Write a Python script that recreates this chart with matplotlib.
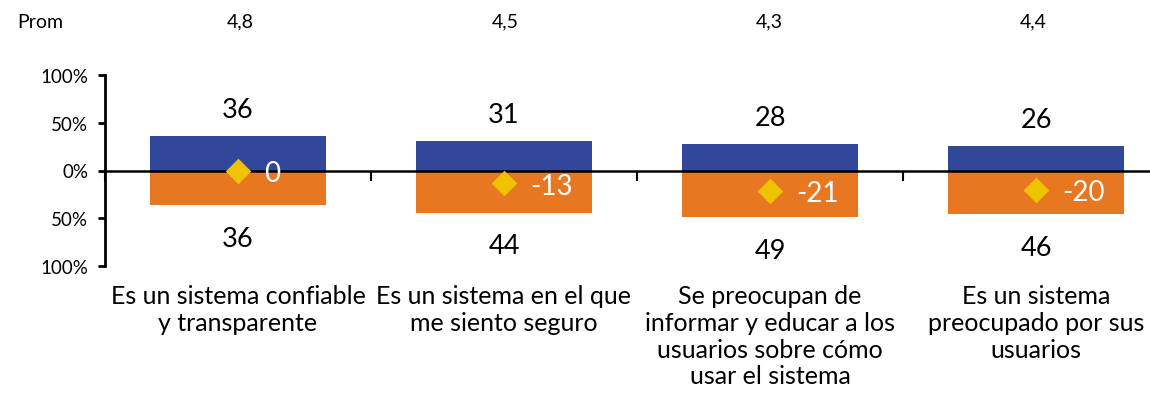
import numpy as np
import matplotlib
matplotlib.use("Agg")
import matplotlib.pyplot as plt

plt.rcParams['font.family'] = ['Lato', 'DejaVu Sans']

# Survey items and results
categories = ["Es un sistema confiable\ny transparente",
              "Es un sistema en el que\nme siento seguro",
              "Se preocupan de\ninformar y educar a los\nusuarios sobre cómo\nusar el sistema",
              "Es un sistema\npreocupado por sus\nusuarios"]
agree = [36, 31, 28, 26]
disagree = [36, 44, 49, 46]
net = [0, -13, -21, -20]
prom = ["4,8", "4,5", "4,3", "4,4"]

blue = "#30479A"
orange = "#E87722"
gold = "#EFC300"

fig = plt.figure(figsize=(11.5, 4.02), dpi=100)
ax = fig.add_axes([105 / 1150, 135 / 402, 1064 / 1150, 191 / 402])

x = np.arange(len(categories))
ax.bar(x, agree, width=0.66, color=blue, zorder=1)
ax.bar(x, [-d for d in disagree], width=0.66, color=orange, zorder=1)
ax.scatter(x, net, marker='D', s=170, color=gold, zorder=3, linewidths=0)

for i in range(len(categories)):
    ax.annotate(str(agree[i]), (x[i], agree[i]), xytext=(0, 10),
                textcoords='offset points', ha='center', va='bottom', fontsize=19.5)
    ax.annotate(str(disagree[i]), (x[i], -disagree[i]), xytext=(0, -15),
                textcoords='offset points', ha='center', va='top', fontsize=19.5)
    ax.annotate(str(net[i]), (x[i], net[i]), xytext=(19, -2),
                textcoords='offset points', ha='left', va='center',
                fontsize=20, color='white', zorder=4)
    ax.annotate(categories[i], (x[i], -100), xytext=(0, -13),
                textcoords='offset points', ha='center', va='top',
                fontsize=18, linespacing=1.2)
    fig.text(ax.transData.transform((x[i], 0))[0] / fig.bbox.width, 0.945,
             prom[i], ha='center', va='center', fontsize=14)

fig.text(40 / 1150, 0.945, "Prom", ha='center', va='center', fontsize=14)

ax.set_xlim(-0.5, 3.5)
ax.set_ylim(-100, 100)
ax.set_yticks([-100, -50, 0, 50, 100])
ax.set_yticklabels(["100%", "50%", "0%", "50%", "100%"], fontsize=13.5)
ax.set_xticks([-0.5, 0.5, 1.5, 2.5])
ax.set_xticklabels([])
ax.tick_params(axis='x', direction='out', length=7, width=1.5)
ax.tick_params(axis='y', direction='out', length=5, width=2, pad=7)

for s in ['top', 'right']:
    ax.spines[s].set_visible(False)
ax.spines['bottom'].set_position(('data', 0))
ax.spines['bottom'].set_linewidth(1.8)
ax.spines['bottom'].set_zorder(2)
ax.spines['left'].set_linewidth(2)

fig.savefig("out.png", dpi=100)
